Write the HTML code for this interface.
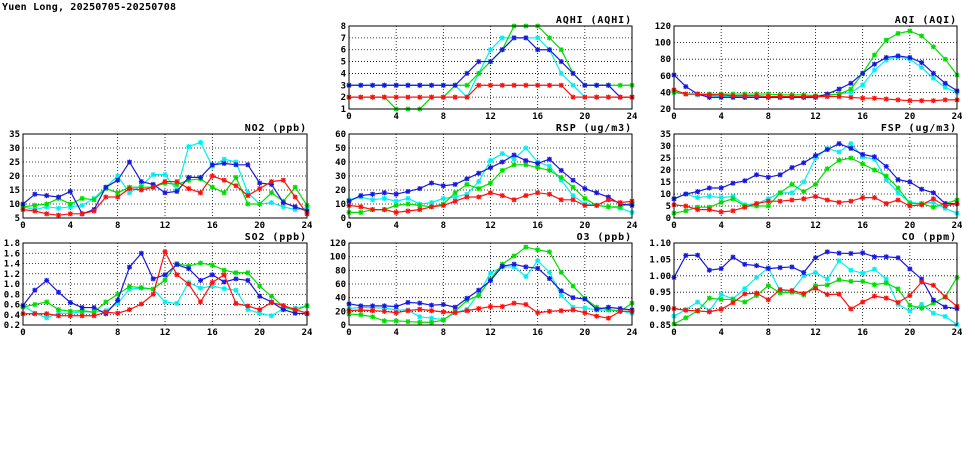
<!DOCTYPE html>
<html><head><meta charset="utf-8"><style>
body{margin:0;background:#fff;}
svg text{font-family:"DejaVu Sans Mono","Liberation Mono",monospace;font-size:9px;font-weight:bold;fill:#000;}
svg text.pt{font-size:10px;letter-spacing:0.9px;}
svg text.mt{font-size:10px;letter-spacing:0.2px;}
</style></head><body>
<svg id="s" width="975" height="447" xmlns="http://www.w3.org/2000/svg"></svg>
<script>
const P=[
{t:"AQHI (AQHI)",x0:349,x1:632,y0:26,y1:109,min:1,max:8,ticks:[1,2,3,4,5,6,7,8],f:v=>v,
d:{c:[3,3,3,3,3,3,3,3,3,3,2,4,6,7,7,7,7,6,4,3,2,2,2,2,2],
g:[2,2,2,2,1,1,1,2,2,3,3,4,5,6,8,8,8,7,6,4,3,3,3,3,3],
b:[3,3,3,3,3,3,3,3,3,3,4,5,5,6,7,7,6,6,5,4,3,3,3,2,2],
r:[2,2,2,2,2,2,2,2,2,2,2,3,3,3,3,3,3,3,3,2,2,2,2,2,2]}},
{t:"AQI (AQI)",x0:674,x1:957,y0:26,y1:109,min:20,max:120,ticks:[20,40,60,80,100,120],f:v=>v,
d:{c:[40,38,37,36,35,35,34,34,34,34,34,34,34,36,38,40,49,67,79,83,80,70,57,46,40],
g:[40,38,38,38,38,38,38,38,38,37,37,37,36,37,38,44,63,85,103,111,114,108,95,80,61],
b:[61,47,38,34,34,34,34,34,34,34,34,34,34,38,44,51,63,74,82,84,82,76,63,51,42],
r:[43,38,38,37,37,36,36,36,35,35,35,35,35,35,35,34,33,33,32,31,30,30,30,31,31]}},
{t:"NO2 (ppb)",x0:23,x1:307,y0:134,y1:218,min:5,max:35,ticks:[5,10,15,20,25,30,35],f:v=>v,
d:{c:[9,8,9,8.5,9,9.5,12,16,20,14,16.5,20.5,20.5,15,30.5,32,23.5,26,25,14,10,10.5,9,8,8.5],
g:[9,9.5,10,12,10,12,11.5,15.5,14,16,16,16,17.5,17,18.5,19,16,14,19.5,10,10,14,11,16,9.5],
b:[10,13.5,13,12.5,14.5,6.5,8,16,18.5,25,18,17,14,14.5,19.5,19.5,24,24.5,24,24,17.5,17,10.5,9,7.5],
r:[8,7.5,6.5,6,6.5,6.5,7.5,12.5,12.5,15.5,15,16,18,18,15.5,14,20,18.5,16.5,13,15.5,18,18.5,12.5,6.5]}},
{t:"RSP (ug/m3)",x0:349,x1:632,y0:134,y1:218,min:0,max:60,ticks:[0,10,20,30,40,50,60],f:v=>v,
d:{c:[13,15,13,14,12,14,10,11,14,15,17,26,41,46,42,50,40,37,27,16,10,9,8,7,4],
g:[4,4,6,6,9,10,9,8,10,18,24,21,25,34,38,38,36,34,29,22,14,9,8,8,11],
b:[12,16,17,18,17,19,21,25,23,24,28,32,36,40,45,41,39,42,34,27,21,18,15,10,9],
r:[9,8,6,6,4,5,6,8,9,12,15,15,18,16,13,16,18,17,13,13,9,9,13,11,12]}},
{t:"FSP (ug/m3)",x0:674,x1:957,y0:134,y1:218,min:0,max:35,ticks:[0,5,10,15,20,25,30,35],f:v=>v,
d:{c:[8,10,8.5,9,8.5,9,5.5,6,8,10.5,10.5,15,25,29,27.5,31,25.5,24.5,16,10.5,6.5,6,6.5,4,2],
g:[2,3,4.5,4.5,6.5,8,5,5,5,10.5,14,11,14,20.5,24,25,22.5,20,17.5,12.5,6,6,4.5,6,7.5],
b:[8,10,11,12.5,12.5,14.5,15.5,18,17,18,21,23,26,28.5,31,29,26.5,25.5,21.5,16,15,12,10.5,6,6],
r:[5.5,5,3.5,3.5,2.5,3,4.5,6,7,7,7.5,8,9,7.5,6.5,7,8.5,8.5,6,7.5,5,5.5,8,5,6]}},
{t:"SO2 (ppb)",x0:23,x1:307,y0:243,y1:325,min:0.2,max:1.8,ticks:[0.2,0.4,0.6,0.8,1.0,1.2,1.4,1.6,1.8],f:v=>v.toFixed(1),
d:{c:[.58,.43,.34,.43,.43,.46,.45,.48,.62,.9,.92,.9,.65,.62,1.03,.92,.96,.91,.88,.5,.43,.38,.52,.53,.57],
g:[.55,.6,.65,.5,.47,.48,.45,.65,.8,.95,.93,.9,1.08,1.4,1.35,1.41,1.37,1.27,1.22,1.22,.96,.76,.56,.48,.58],
b:[.58,.88,1.07,.84,.64,.54,.54,.42,.68,1.33,1.6,1.1,1.18,1.38,1.3,1.07,1.18,1.04,1.1,1.07,.76,.65,.5,.43,.42],
r:[.42,.42,.42,.38,.38,.38,.38,.45,.43,.5,.61,.8,1.63,1.18,1.0,.65,1.03,1.18,.62,.57,.5,.64,.58,.5,.43]}},
{t:"O3 (ppb)",x0:349,x1:632,y0:243,y1:325,min:0,max:120,ticks:[0,20,40,60,80,100,120],f:v=>v,
d:{c:[24,26,25,25,22,22,12,10,8,18,23,46,76,85,85,71,94,77,43,26,25,22,22,21,17],
g:[16,15,12,6,6,5,4,4,7,20,36,43,67,89,101,114,110,107,77,57,39,26,23,20,32],
b:[31,28,28,28,27,33,32,29,30,26,39,51,65,86,89,85,83,68,50,40,38,23,26,24,22],
r:[21,22,21,20,18,21,23,21,19,18,21,24,27,27,32,30,18,20,21,22,18,13,10,20,20]}},
{t:"CO (ppm)",x0:674,x1:957,y0:243,y1:325,min:0.85,max:1.10,ticks:[0.85,0.90,0.95,1.00,1.05,1.10],f:v=>v.toFixed(2),
d:{c:[.877,.897,.92,.893,.943,.93,.961,.995,1.025,.954,.954,1.0,1.01,.99,1.046,1.017,1.008,1.02,.99,.913,.893,.913,.886,.876,.851],
g:[.853,.872,.893,.932,.928,.928,.92,.94,.97,.948,.95,.942,.97,.972,.988,.983,.983,.973,.978,.96,.91,.901,.917,.935,.995],
b:[.995,1.062,1.063,1.017,1.022,1.057,1.035,1.031,1.022,1.025,1.027,1.01,1.055,1.073,1.069,1.068,1.07,1.058,1.058,1.055,1.021,.99,.926,.905,.90],
r:[.90,.895,.893,.89,.898,.918,.945,.947,.927,.958,.955,.946,.962,.943,.944,.899,.92,.938,.932,.919,.94,.981,.971,.936,.907]}}
];
const col={c:"#00f0f0",g:"#00dd00",b:"#1818e0",r:"#ff1010"};
let h='<text class="mt" x="2" y="10">Yuen Long, 20250705-20250708</text>';
for(const p of P){
 const X=i=>p.x0+(p.x1-p.x0)*i/24, Y=v=>p.y1-(p.y1-p.y0)*(v-p.min)/(p.max-p.min);
 h+=`<text class="pt" x="${p.x1}" y="${p.y0-3}" text-anchor="end">${p.t}</text>`;
 for(const t of p.ticks){const y=Y(t);
  if(t!=p.min&&t!=p.max)h+=`<line x1="${p.x0}" x2="${p.x1}" y1="${y}" y2="${y}" stroke="#000" stroke-width="0.8" stroke-dasharray="1,2"/>`;
  h+=`<text x="${p.x0-3}" y="${y+3}" text-anchor="end">${p.f(t)}</text>`;}
 for(let i=0;i<=24;i+=4){const x=X(i);
  if(i>0&&i<24)h+=`<line x1="${x}" x2="${x}" y1="${p.y0}" y2="${p.y1}" stroke="#000" stroke-width="0.8" stroke-dasharray="1,2"/>`;
  h+=`<text x="${x}" y="${p.y1+10}" text-anchor="middle">${i}</text>`;}
 for(const k of ["c","g","b","r"]){const a=p.d[k];
  h+=`<polyline fill="none" stroke="${col[k]}" stroke-width="1.2" points="${a.map((v,i)=>X(i)+','+Y(v)).join(' ')}"/>`;
  let m='';a.forEach((v,i)=>{const x=X(i),y=Y(v);m+=`M${x-2.5},${y}h5M${x},${y-2.5}v5M${x-2},${y-2}l4,4M${x-2},${y+2}l4,-4`;});
  h+=`<path d="${m}" stroke="${col[k]}" stroke-width="1.2"/>`;}
 h+=`<rect x="${p.x0}" y="${p.y0}" width="${p.x1-p.x0}" height="${p.y1-p.y0}" fill="none" stroke="#000" stroke-width="1"/>`;
}
document.getElementById("s").innerHTML=h;
</script>
</body></html>
